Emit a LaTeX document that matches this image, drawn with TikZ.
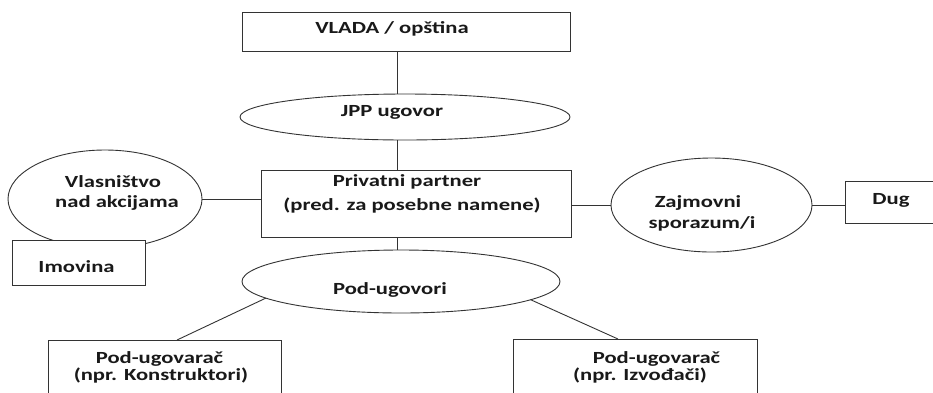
\documentclass[tikz,border=0pt]{standalone}
\usepackage{fontspec}
\setmainfont[FakeStretch=1.33]{Carlito}
\usetikzlibrary{shapes.geometric}
\begin{document}
\begin{tikzpicture}[x=1pt,y=-1pt,
  every node/.style={inner sep=0pt, outer sep=0pt},
  ln/.style={draw=black!80, line width=0.9pt},
  boxn/.style={rectangle, ln, fill=white},
  ovn/.style={ellipse, ln, fill=white},
  txt/.style={anchor=base, font=\fontsize{17}{20}\selectfont\bfseries, text=black!90}]
\useasboundingbox (0,0) rectangle (933,392);
\clip (0,0) rectangle (933,392);
% shapes
\node[boxn, minimum width=328pt, minimum height=39pt] (vlada) at (406,31.5) {};
\node[ovn, minimum width=330pt, minimum height=46pt] (jpp) at (405,117) {};
\node[boxn, minimum width=310pt, minimum height=67pt] (priv) at (416,203.5) {};
\node[ovn, minimum width=194pt, minimum height=98pt] (vl) at (105,199) {};
\node[boxn, minimum width=133pt, minimum height=45pt] (imov) at (78.5,262.5) {};
\node[ovn, minimum width=201pt, minimum height=94pt] (zaj) at (711.5,205) {};
\node[boxn, minimum width=105pt, minimum height=42pt] (dug) at (897.5,202) {};
\node[ovn, minimum width=318pt, minimum height=63pt] (pod) at (401,281.5) {};
\node[boxn, minimum width=233pt, minimum height=80pt] (sub1) at (164.5,380) {};
\node[boxn, minimum width=244pt, minimum height=81pt] (sub2) at (635,379.5) {};
% helper coordinates
\coordinate (vx) at (397,0);
\coordinate (c1) at (177,0);
\coordinate (c2) at (618,0);
% connectors
\draw[ln] (vlada.south -| vx) -- (jpp.north -| vx);
\draw[ln] (jpp.south -| vx) -- (priv.north -| vx);
\draw[ln] (priv.south -| vx) -- (pod.north -| vx);
\draw[ln] (vl.east) -- (priv.west |- vl.east);
\draw[ln] (priv.east |- zaj.west) -- (zaj.west);
\draw[ln] (zaj.east) -- (dug.west |- zaj.east);
\draw[ln] (pod.187) -- (sub1.north -| c1);
\draw[ln] (pod.-8.5) -- (sub2.north -| c2);
% texts
\node[txt] (t1) at (392,33) {VLADA / opština};
\node[txt] (t2) at (392,116) {JPP ugovor};
\node[txt] (t3) at (407,186) {Privatni partner};
\node[txt] (t4) at (412,210) {(pred. za posebne namene)};
\node[txt] (t5) at (113,187) {Vlasništvo};
\node[txt] (t6) at (117,207) {nad akcijama};
\node[txt] (t7) at (76.5,272) {Imovina};
\node[txt] (t8) at (698,207) {Zajmovni};
\node[txt] (t9) at (702,228) {sporazum/i};
\node[txt] (t10) at (891,204) {Dug};
\node[txt] (t11) at (390,294) {Pod-ugovori};
\node[txt] (t12) at (159.5,363) {Pod-ugovarač};
\node[txt] (t13) at (161,380) {(npr. Konstruktori)};
\node[txt] (t14) at (656.5,363) {Pod-ugovarač};
\node[txt] (t15) at (640,380) {(npr. Izvođači)};
\end{tikzpicture}
\end{document}
